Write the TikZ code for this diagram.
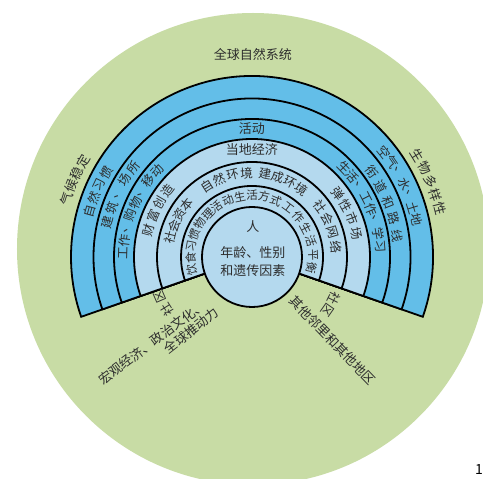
\documentclass[tikz,border=0pt]{standalone}
\usepackage{fontspec}
\newfontfamily\cjk{Noto Sans CJK SC}
\definecolor{bggreen}{RGB}{200,220,165}
\definecolor{midblue}{RGB}{99,190,232}
\definecolor{ltblue}{RGB}{180,217,238}
\definecolor{txtgray}{RGB}{45,45,45}
\tikzset{
  lbl/.style={font=\cjk\fontsize{13}{15}\selectfont, text=txtgray, inner sep=0pt},
  rlbl/.style={lbl, font=\cjk\fontsize{12.5}{14}\selectfont},
  slbl/.style={lbl, font=\cjk\fontsize{11.5}{13}\selectfont},
  ringline/.style={draw=black, line width=1.8pt, line join=miter}
}
% name, radius, start angle, step, style, list
\newcommand\arcchars[6]{%
  \foreach \c [count=\i] in {#6} {
    \pgfmathsetmacro\ang{#3-(\i-1)*(#4)}
    \node[#5, rotate=\ang-90] (#1-\i) at (\ang:#2) {\c};
  }%
}
\begin{document}
\begin{tikzpicture}[x=1pt,y=1pt]
\useasboundingbox (-252,-222) rectangle (231,257);
\clip (-252,-222) rectangle (231,257);
\fill[white] (-252,-222) rectangle (231,257);
% background circle
\fill[bggreen] (1,8) circle[radius=236pt];
% rings
\foreach \r/\col in {181/midblue,158.5/midblue,138/midblue,118/ltblue,95/ltblue,71/ltblue}{
  \filldraw[ringline, fill=\col] (0,0) -- (-19.3:\r pt) arc[start angle=-19.3, end angle=199.3, radius=\r pt] -- cycle;
}
\filldraw[ringline, fill=ltblue] (0,0) circle[radius=50pt];
% outside labels
\node[lbl] (glob) at (1,202) {全球自然系统};
\arcchars{qh}{194}{162.5}{4.0}{lbl}{气,候,稳,定}
\arcchars{sw}{194}{31.6}{4.3}{lbl}{生,物,多,样,性}
% ring 1
\arcchars{zr}{168.5}{164.4}{4.8}{rlbl}{自,然,习,惯}
\arcchars{kq}{169}{38.5}{4.3}{rlbl}{空,气,、,水,、,土,地}
% ring 2
\arcchars{jz}{148.5}{166.5}{5.9}{rlbl}{建,筑,、,场,所}
\arcchars{xd}{147}{35.5}{6.8}{rlbl}{衔,道,和,路,线}
% ring 3
\arcchars{gz}{128.5}{178.4}{5.8}{rlbl}{工,作,、,购,物,、,移,动}
\node[lbl] (hd) at (0,128) {活动};
\arcchars{sh}{128.5}{44.2}{5.64}{rlbl}{生,活,、,工,作,、,学,习}
% ring 4
\arcchars{cf}{107}{165.4}{7.8}{rlbl}{财,富,创,造}
\node[lbl] (dd) at (0,107) {当地经济};
\arcchars{tx}{107}{36.6}{7.9}{rlbl}{弹,性,市,场}
% ring 5
\arcchars{shz}{84}{166.4}{8.3}{rlbl}{社,会,资,本}
\arcchars{zrhj}{84}{122.5}{9.6}{rlbl}{自,然,环,境}
\arcchars{jc}{84}{81}{8.9}{rlbl}{建,成,环,境}
\arcchars{shw}{84.5}{36.7}{10}{rlbl}{社,会,网,络}
% ring 6
\arcchars{ys}{61.5}{192}{11}{slbl}{饮,食,习,惯}
\arcchars{wl}{61.5}{147}{11.3}{slbl}{物,理,活,动}
\arcchars{shfs}{61.5}{101.3}{11.4}{slbl}{生,活,方,式}
\arcchars{gzph}{61}{53.3}{12.8}{slbl}{工,作,生,活,平,衡}
% centre
\node[lbl] (ren) at (1,30) {人};
\node[lbl] (nl) at (1,4) {年龄、性别};
\node[lbl] (hy) at (1,-14) {和遗传因素};
% below
\arcchars{sql}{100}{212}{8.6}{rlbl}{社,区}
\arcchars{sqr}{92}{-26.5}{8.5}{rlbl}{社,区}
\node[lbl, rotate=-46] (qt) at (-46:116) {其他邻里和其他地区};
\node[lbl, rotate=37] (hg) at (-100,-85.5) {宏观经济、政治文化、};
\node[lbl, rotate=38] (qq) at (-60.5,-74) {全球推动力};
\node[font=\cjk\fontsize{14}{16}\selectfont, text=black, inner sep=0pt] (num) at (227,-213) {1};
\end{tikzpicture}
\end{document}
